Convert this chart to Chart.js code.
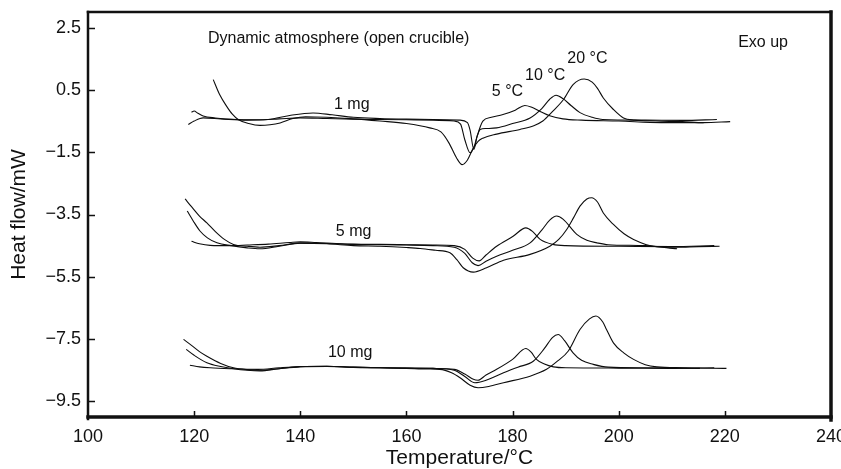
<!DOCTYPE html>
<html>
<head>
<meta charset="utf-8">
<title>DSC heat flow</title>
<script src="https://cdn.jsdelivr.net/npm/chart.js@4.4.1/dist/chart.umd.min.js"></script>
<style>
  html, body { margin: 0; padding: 0; background: #fff; }
  canvas { display: block; }
</style>
</head>
<body>
<canvas id="dsc" width="841" height="469"></canvas>
<script>
// Heat flow traces as [temperature °C, heat flow mW], per sample mass and heating rate
const mg1_r20 = [[123.6, 0.83], [124.8, 0.35], [126.1, -0.02], [127.2, -0.28], [128.3, -0.45], [130.3, -0.58], [132.4, -0.64], [134.3, -0.62], [136.2, -0.56], [138.6, -0.42], [141, -0.36], [145, -0.38], [150, -0.43], [155, -0.5], [160, -0.58], [164.4, -0.72], [166.5, -0.85], [168, -1.2], [169.5, -1.7], [170.5, -1.9], [171.5, -1.75], [172.5, -1.4], [173.5, -1.15], [174.4, -1.05], [177, -0.92], [181.4, -0.77], [184, -0.65], [185.7, -0.5], [187.5, -0.2], [189.6, 0.19], [191.4, 0.67], [193.5, 0.85], [195, 0.75], [196, 0.55], [197.1, 0.24], [199, -0.13], [200.9, -0.4], [203, -0.47], [207, -0.5], [212, -0.52], [216, -0.55], [221, -0.52]];
const mg1_r10 = [[119.5, -0.22], [120, -0.18], [120.7, -0.25], [121.7, -0.34], [124, -0.4], [128, -0.45], [132, -0.46], [136, -0.43], [140, -0.4], [145, -0.42], [150, -0.44], [155, -0.45], [160, -0.46], [165, -0.47], [169, -0.5], [170.2, -0.6], [171, -1.1], [172, -1.52], [172.8, -1.3], [173.3, -1.0], [173.9, -0.77], [175, -0.74], [177, -0.72], [180, -0.58], [183.3, -0.4], [185.5, -0.1], [187, 0.2], [188.2, 0.33], [189.5, 0.22], [191, 0.0], [192.7, -0.23], [195, -0.38], [197, -0.45], [205, -0.47], [212, -0.48], [218.5, -0.45]];
const mg1_r5 = [[118.9, -0.61], [120, -0.5], [121.7, -0.4], [125, -0.43], [130, -0.47], [134, -0.45], [138, -0.32], [142.4, -0.24], [146, -0.3], [150, -0.38], [155, -0.42], [160, -0.44], [165, -0.45], [170, -0.47], [171.5, -0.55], [172, -0.8], [172.7, -1.41], [173.3, -1.0], [174.4, -0.5], [176, -0.38], [178.2, -0.29], [180.5, -0.15], [182.3, 0.0], [183.5, -0.05], [185.2, -0.19], [187, -0.33], [189.5, -0.43], [193, -0.47], [200, -0.5], [208, -0.55], [216, -0.55]];

const mg5_r20 = [[118.3, -3.0], [119.5, -3.25], [121, -3.55], [122.4, -3.77], [124, -4.05], [125.7, -4.3], [127.4, -4.46], [130, -4.52], [132.4, -4.55], [136, -4.5], [140, -4.42], [145, -4.44], [150, -4.5], [155, -4.52], [160, -4.56], [162.6, -4.59], [165.5, -4.65], [168.2, -4.73], [169.5, -4.95], [170.7, -5.21], [172.6, -5.35], [175.1, -5.21], [178.3, -4.97], [183.3, -4.78], [187.1, -4.51], [188.7, -4.3], [190.2, -3.98], [191.5, -3.6], [192.7, -3.23], [194, -3.0], [194.9, -2.96], [196, -3.1], [197.1, -3.45], [199, -3.82], [201, -4.12], [202.8, -4.3], [206.5, -4.52], [211, -4.55], [215, -4.53], [219, -4.52]];
const mg5_r10 = [[118.7, -3.39], [119.8, -3.7], [121.1, -4.03], [122.5, -4.25], [124.3, -4.41], [127, -4.5], [130, -4.57], [132.4, -4.6], [136, -4.52], [140, -4.42], [145, -4.43], [150, -4.46], [155, -4.47], [160, -4.48], [165, -4.5], [169, -4.55], [171, -4.75], [172.4, -5.05], [173.5, -5.14], [175, -5.0], [177, -4.84], [180, -4.65], [183.3, -4.41], [185.5, -4.0], [187, -3.68], [188.3, -3.55], [189.5, -3.65], [192.1, -4.14], [194, -4.33], [195.9, -4.41], [198, -4.47], [205, -4.5], [211, -4.6]];
const mg5_r5 = [[119.5, -4.36], [121, -4.44], [123, -4.49], [127, -4.5], [130, -4.48], [134, -4.45], [138, -4.4], [140, -4.38], [143, -4.4], [148, -4.44], [155, -4.46], [160, -4.47], [165, -4.48], [169, -4.5], [171, -4.62], [172.5, -4.9], [173.7, -4.99], [175, -4.8], [177, -4.52], [180.1, -4.2], [182.5, -3.93], [183.8, -4.05], [185.2, -4.3], [187.6, -4.46], [190, -4.5], [200, -4.52], [210, -4.53], [218, -4.5]];

const mg10_r20 = [[118, -7.51], [119.5, -7.7], [121, -7.9], [122.4, -8.05], [125, -8.28], [127.4, -8.42], [130, -8.48], [132.4, -8.5], [136, -8.45], [140, -8.38], [145, -8.37], [150, -8.4], [155, -8.42], [160, -8.44], [164, -8.46], [166.3, -8.47], [168.5, -8.58], [170.1, -8.74], [172, -8.98], [173.5, -9.06], [175.5, -9.02], [178.3, -8.9], [183.3, -8.69], [186.4, -8.47], [188.5, -8.2], [190.5, -7.88], [192.7, -7.19], [194.5, -6.85], [195.7, -6.76], [197, -6.95], [197.7, -7.19], [199, -7.62], [201, -7.95], [202.8, -8.15], [205, -8.32], [207.2, -8.39], [212, -8.42], [220.3, -8.44]];
const mg10_r10 = [[118.5, -7.83], [120, -8.02], [122.4, -8.26], [125, -8.38], [127.4, -8.45], [130, -8.5], [132.4, -8.52], [136, -8.45], [140, -8.39], [145, -8.38], [150, -8.41], [155, -8.42], [160, -8.43], [165, -8.44], [169, -8.5], [171, -8.7], [172.9, -8.9], [175, -8.82], [178.3, -8.58], [181, -8.4], [183.9, -8.21], [186, -7.8], [187.5, -7.45], [188.6, -7.35], [189.8, -7.55], [191.4, -7.94], [193, -8.18], [195.2, -8.31], [198, -8.4], [205, -8.42], [215.3, -8.44]];
const mg10_r5 = [[119.2, -8.34], [121, -8.39], [123, -8.42], [127, -8.45], [132, -8.47], [136, -8.42], [140, -8.38], [145, -8.37], [150, -8.4], [155, -8.42], [160, -8.43], [165, -8.44], [169, -8.47], [171, -8.62], [172.5, -8.78], [173.5, -8.82], [175, -8.65], [177, -8.47], [180, -8.15], [182.5, -7.8], [183.5, -7.92], [184.5, -8.15], [186, -8.3], [187.7, -8.39], [190, -8.42], [200, -8.43], [210, -8.44], [218, -8.42]];

const yTicks = [2.5, 0.5, -1.5, -3.5, -5.5, -7.5, -9.5];
const xTicks = [100, 120, 140, 160, 180, 200, 220, 240];

// text notes anchored at [temperature, heat flow] (left edge, baseline)
const notes = [
    { text: 'Dynamic atmosphere (open crucible)', x: 122.6, y: 2.02 },
    { text: 'Exo up', x: 222.5, y: 1.87 },
    { text: '20 °C', x: 190.3, y: 1.35 },
    { text: '10 °C', x: 182.35, y: 0.83 },
    { text: '5 °C', x: 176.1, y: 0.30 },
    { text: '1 mg', x: 146.35, y: -0.10 },
    { text: '5 mg', x: 146.7, y: -4.19 },
    { text: '10 mg', x: 145.2, y: -8.09 }
];

const FONT = "'Liberation Sans', Arial, Helvetica, sans-serif";
const INK = '#0d0d0d';

const traces = [mg1_r20, mg1_r10, mg1_r5, mg5_r20, mg5_r10, mg5_r5, mg10_r20, mg10_r10, mg10_r5];

function fmtTick(v) {
    return v < 0 ? '\u2212' + Math.abs(v).toFixed(1) : v.toFixed(1);
}

const frameAndTicks = {
    id: 'frameAndTicks',
    afterDraw(chart) {
        const { ctx, chartArea: a, scales: { x, y } } = chart;
        ctx.save();
        ctx.strokeStyle = '#111';
        ctx.lineWidth = 1.5;
        ctx.beginPath();
        yTicks.forEach(v => {
            const py = Math.round(y.getPixelForValue(v)) + 0.5;
            ctx.moveTo(a.left, py);
            ctx.lineTo(a.left + 7, py);
        });
        xTicks.slice(1, -1).forEach(v => {
            const px = Math.round(x.getPixelForValue(v)) + 0.5;
            ctx.moveTo(px, a.bottom);
            ctx.lineTo(px, a.bottom - 6);
        });
        ctx.stroke();

        // box, heavier on the bottom and right
        ctx.lineCap = 'square';
        const side = (x1, y1, x2, y2, w) => {
            ctx.lineWidth = w;
            ctx.beginPath();
            ctx.moveTo(x1, y1);
            ctx.lineTo(x2, y2);
            ctx.stroke();
        };
        side(a.left, a.top, a.right, a.top, 2.5);
        side(a.left, a.top, a.left, a.bottom + 2, 2.5);
        side(a.right, a.top, a.right, a.bottom + 3, 3.5);
        side(a.left, a.bottom, a.right, a.bottom, 3.5);

        ctx.fillStyle = '#111';
        ctx.font = '16px ' + FONT;
        ctx.textAlign = 'left';
        ctx.textBaseline = 'alphabetic';
        notes.forEach(n => {
            ctx.fillText(n.text, x.getPixelForValue(n.x), y.getPixelForValue(n.y));
        });
        ctx.restore();
    }
};

new Chart(document.getElementById('dsc'), {
    type: 'line',
    data: {
        datasets: traces.map(t => ({
            data: t,
            borderColor: INK,
            borderWidth: 1.1,
            pointRadius: 0,
            fill: false,
            cubicInterpolationMode: 'monotone'
        }))
    },
    options: {
        responsive: false,
        animation: false,
        devicePixelRatio: 1,
        layout: { padding: { top: 12, right: 10, left: 0, bottom: 0 } },
        plugins: { legend: { display: false }, tooltip: { enabled: false } },
        scales: {
            x: {
                type: 'linear',
                min: 100,
                max: 240,
                afterBuildTicks: s => { s.ticks = xTicks.map(v => ({ value: v })); },
                afterFit: s => { s.height = 52; s.paddingLeft = 0; s.paddingRight = 0; },
                grid: { display: false, drawTicks: false },
                border: { display: false },
                ticks: { color: '#111', padding: 9, maxRotation: 0, font: { family: FONT, size: 18 } },
                title: {
                    display: true,
                    text: 'Temperature/°C',
                    color: '#111',
                    padding: { top: 0, bottom: -2 },
                    font: { family: FONT, size: 21 }
                }
            },
            y: {
                type: 'linear',
                min: -10,
                max: 3,
                afterBuildTicks: s => { s.ticks = yTicks.map(v => ({ value: v })); },
                afterFit: s => { s.width = 88; s.paddingTop = 0; s.paddingBottom = 0; },
                grid: { display: false, drawTicks: false },
                border: { display: false },
                ticks: { color: '#111', padding: 7, callback: fmtTick, font: { family: FONT, size: 18 } },
                title: {
                    display: true,
                    text: 'Heat flow/mW',
                    color: '#111',
                    padding: { top: 7, bottom: 0 },
                    font: { family: FONT, size: 21 }
                }
            }
        }
    },
    plugins: [frameAndTicks]
});
</script>
</body>
</html>
